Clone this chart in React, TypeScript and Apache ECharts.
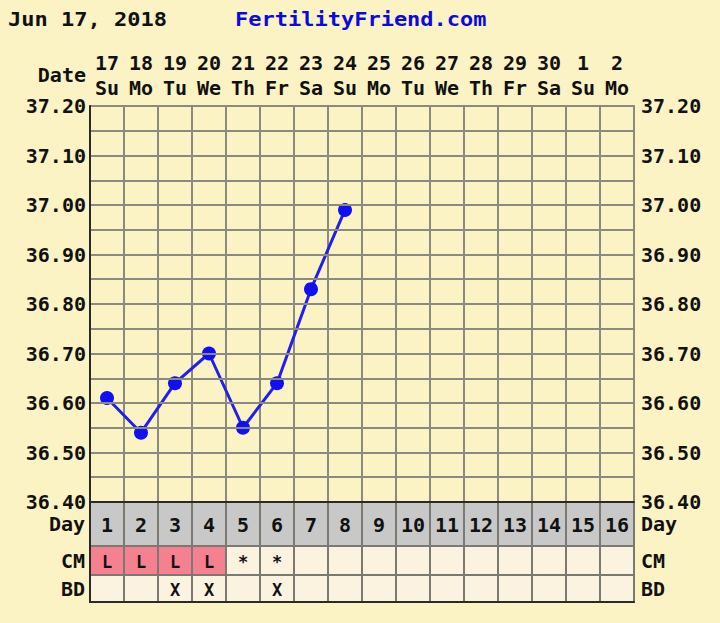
import React, { useEffect, useRef } from "react";
import * as echarts from "echarts";

const headerDate = "Jun 17, 2018";
const siteName = "FertilityFriend.com";
const dateNums = ["17", "18", "19", "20", "21", "22", "23", "24", "25", "26", "27", "28", "29", "30", "1", "2"];
const weekdays = ["Su", "Mo", "Tu", "We", "Th", "Fr", "Sa", "Su", "Mo", "Tu", "We", "Th", "Fr", "Sa", "Su", "Mo"];
const temps = [36.61, 36.54, 36.64, 36.7, 36.55, 36.64, 36.83, 36.99];
const cycleDays = ["1", "2", "3", "4", "5", "6", "7", "8", "9", "10", "11", "12", "13", "14", "15", "16"];
const cmValues = ["L", "L", "L", "L", "*", "*", "", "", "", "", "", "", "", "", "", ""];
const bdValues = ["", "", "X", "X", "", "X", "", "", "", "", "", "", "", "", "", ""];
const tempMin = 36.4;
const tempMax = 37.2;

const FONT = '"DejaVu Sans Mono", monospace';
const BG = "#FCF3C4";
const GRID = "#8a8a80";
const DARK = "#2a2a2a";

export default function App() {
  const ref = useRef<HTMLDivElement>(null);
  useEffect(() => {
    if (!ref.current) return;
    const chart = echarts.init(ref.current, undefined, { renderer: "svg" });
    const left = 90;
    const width = 544;
    const rows = [
      { name: "Day", top: 502, height: 44, values: cycleDays, fill: (v: string) => "#C8C8C8" },
      { name: "CM", top: 546, height: 29, values: cmValues, fill: (v: string) => (v === "L" ? "#F5808F" : "#FBF2DF") },
      { name: "BD", top: 575, height: 27, values: bdValues, fill: (v: string) => "#FBF2DF" },
    ];
    const labelStyle = { fontFamily: FONT, fontWeight: "bold" as const, fontSize: 20, color: "#111" };

    const grids: any[] = [{ left, top: 106, width, height: 396 }];
    const xAxes: any[] = [
      {
        gridIndex: 0,
        type: "category",
        position: "top",
        data: dateNums,
        boundaryGap: true,
        axisTick: { show: false },
        axisLine: { show: true, lineStyle: { color: GRID, width: 2 } },
        splitLine: { show: true, lineStyle: { color: GRID, width: 2 } },
        axisLabel: {
          interval: 0,
          margin: 6,
          formatter: (v: string, i: number) => `{d|${v}}\n{w|${weekdays[i]}}`,
          rich: {
            d: { ...labelStyle, lineHeight: 25 },
            w: { ...labelStyle, lineHeight: 25 },
          },
        },
      },
      {
        gridIndex: 0,
        type: "category",
        position: "bottom",
        data: dateNums,
        axisTick: { show: false },
        axisLabel: { show: false },
        axisLine: { show: true, lineStyle: { color: DARK, width: 2 } },
        z: 10,
      },
    ];
    const yAxes: any[] = [
      {
        gridIndex: 0,
        type: "value",
        position: "left",
        min: tempMin,
        max: tempMax,
        interval: 0.05,
        axisTick: { show: false },
        axisLine: { show: true, lineStyle: { color: DARK, width: 2 } },
        splitLine: { show: true, lineStyle: { color: GRID, width: 2 } },
        axisLabel: {
          margin: 4,
          ...labelStyle,
          formatter: (v: number) => (Math.round(v * 100) % 10 === 0 ? v.toFixed(2) : ""),
        },
        z: 10,
      },
      {
        gridIndex: 0,
        type: "value",
        position: "right",
        min: tempMin,
        max: tempMax,
        interval: 0.05,
        axisTick: { show: false },
        axisLine: { show: true, lineStyle: { color: GRID, width: 2 } },
        splitLine: { show: false },
        axisLabel: {
          margin: 7,
          ...labelStyle,
          formatter: (v: number) => (Math.round(v * 100) % 10 === 0 ? v.toFixed(2) : ""),
        },
      },
    ];
    const series: any[] = [
      {
        type: "line",
        xAxisIndex: 0,
        yAxisIndex: 0,
        data: temps,
        symbol: "circle",
        symbolSize: 14,
        itemStyle: { color: "#1010F2" },
        lineStyle: { color: "#2020EA", width: 3 },
        z: 5,
      },
    ];

    rows.forEach((row, r) => {
      const gi = r + 1;
      grids.push({ left, top: row.top, width, height: row.height });
      xAxes.push({
        gridIndex: gi,
        type: "category",
        data: cycleDays,
        axisTick: { show: false },
        axisLabel: { show: false },
        axisLine: { show: r === rows.length - 1, lineStyle: { color: DARK, width: 2 } },
        splitLine: { show: false },
        z: 10,
      });
      const xi = xAxes.length - 1;
      yAxes.push({
        gridIndex: gi,
        type: "category",
        position: "left",
        data: [row.name],
        axisTick: { show: false },
        axisLine: { show: true, lineStyle: { color: DARK, width: 2 } },
        axisLabel: { margin: 5, ...labelStyle },
        z: 10,
      });
      const yi = yAxes.length - 1;
      yAxes.push({
        gridIndex: gi,
        type: "category",
        position: "right",
        data: [row.name],
        axisTick: { show: false },
        axisLine: { show: false },
        axisLabel: { margin: 7, ...labelStyle },
      });
      const vals = row.values;
      series.push({
        type: "custom",
        xAxisIndex: xi,
        yAxisIndex: yi,
        data: vals.map((_, i) => [i, 0]),
        renderItem: (params: any, api: any) => {
          const c = api.coord([api.value(0), api.value(1)]);
          const s = api.size([1, 1]);
          const v = vals[params.dataIndex];
          return {
            type: "group",
            children: [
              {
                type: "rect",
                shape: { x: c[0] - s[0] / 2, y: c[1] - s[1] / 2, width: s[0], height: s[1] },
                style: { fill: row.fill(v), stroke: "#7a7a72", lineWidth: 2 },
              },
              {
                type: "text",
                x: c[0],
                y: c[1] + 1,
                style: {
                  text: v,
                  align: "center",
                  verticalAlign: "middle",
                  font: `bold ${r === 0 ? 20 : 17}px ${FONT}`,
                  fill: "#111",
                },
              },
            ],
          };
        },
      });
    });

    chart.setOption({
      animation: false,
      backgroundColor: BG,
      grid: grids,
      xAxis: xAxes,
      yAxis: yAxes,
      series,
      graphic: [
        {
          type: "text",
          x: 8,
          y: 19,
          scaleX: 1.1,
          style: { text: headerDate, font: `bold 20px ${FONT}`, fill: "#111", verticalAlign: "middle" },
        },
        {
          type: "text",
          x: 235,
          y: 19,
          scaleX: 1.1,
          style: { text: siteName, font: `bold 20px ${FONT}`, fill: "#0A0AE0", verticalAlign: "middle" },
        },
        {
          type: "text",
          x: 86,
          y: 75,
          style: { text: "Date", font: `bold 20px ${FONT}`, fill: "#111", align: "right", verticalAlign: "middle" },
        },
      ],
    });
    return () => chart.dispose();
  }, []);
  return (
    <div
      ref={ref}
      style={{ position: "absolute", left: 0, top: 0, width: 720, height: 623 }}
    />
  );
}
